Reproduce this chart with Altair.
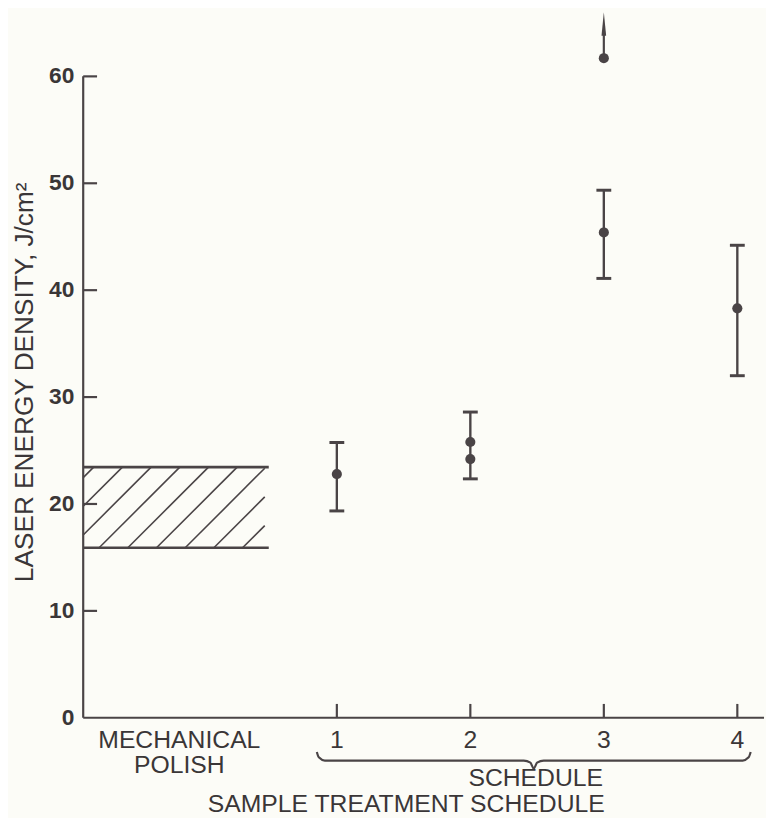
import altair as alt
import pandas as pd

# ---------------- data ----------------
schedule_x = [1, 2, 3, 4]
schedule_labels = ["1", "2", "3", "4"]
err_low = [19.35, 22.35, 41.1, 32.0]
err_high = [25.75, 28.6, 49.35, 44.2]

point_x = [1, 2, 2, 3, 3, 4]
point_y = [22.8, 25.8, 24.2, 45.4, 61.7, 38.3]

arrow_x = [3]
arrow_from = [61.7]
arrow_to = [64.2]
arrow_head = [64.9]

polish_low = 15.9
polish_high = 23.45
polish_x_start = -0.9
polish_x_end = 0.49

y_ticks = [0, 10, 20, 30, 40, 50, 60]
y_tick_labels = ["0", "10", "20", "30", "40", "50", "60"]

# ---------------- layout ----------------
X_DOM = [-0.9, 4.2]
Y_DOM = [0, 66]
W = 688
H = 713
INK = "#4a4446"
TXT = "#3a3637"
FONT = "Liberation Sans"

px_x = W / (X_DOM[1] - X_DOM[0])
px_y = H / (Y_DOM[1] - Y_DOM[0])

xs = alt.Scale(domain=X_DOM, nice=False, zero=False)
ys = alt.Scale(domain=Y_DOM, nice=False, zero=False)


def X(f):
    return alt.X(f, type="quantitative", scale=xs, axis=None)


def Y(f):
    return alt.Y(f, type="quantitative", scale=ys, axis=None)


# y-axis line (0..60) and inward ticks
yline_df = pd.DataFrame({"lo": [0], "hi": [60]})
yline = alt.Chart(yline_df).mark_rule(color=INK, strokeWidth=2.2).encode(
    x=alt.value(0), y=Y("lo"), y2="hi")
ytick_df = pd.DataFrame({"v": y_ticks[1:]})
yticks = alt.Chart(ytick_df).mark_rule(color=INK, strokeWidth=2.2).encode(
    x=alt.value(0), x2=alt.value(14), y=Y("v"))
ylab_df = pd.DataFrame({"v": y_ticks, "t": y_tick_labels})
ylabels = alt.Chart(ylab_df).mark_text(
    font=FONT, fontSize=23, fontWeight="bold", color=TXT, align="right", baseline="middle"
).encode(x=alt.value(-9), y=Y("v"), text="t:N")

# x-axis line and upward ticks
xline_df = pd.DataFrame({"z": [0]})
xline = alt.Chart(xline_df).mark_rule(color=INK, strokeWidth=2.2).encode(
    x=alt.value(0), x2=alt.value(W), y=Y("z"))
xt_df = pd.DataFrame({"s": schedule_x})
xticks = alt.Chart(xt_df).mark_rule(color=INK, strokeWidth=2.2).encode(
    x=X("s"), y=alt.value(H), y2=alt.value(H - 14))

# mechanical polish band outline
band_df = pd.DataFrame({"x0": [polish_x_start] * 2, "x1": [polish_x_end] * 2,
                        "y": [polish_low, polish_high]})
band = alt.Chart(band_df).mark_rule(color=INK, strokeWidth=2.6).encode(
    x=X("x0"), x2="x1", y=Y("y"))

# hatch lines (45 deg in pixels) clipped to the band
Hx = (polish_high - polish_low) * px_y / px_x
step = 29 / px_x
phase = -0.781
hxr = polish_x_end - 0.03
segs = []
k = -6
while True:
    c = phase + k * step
    k += 1
    if c > hxr:
        break
    if c + Hx <= polish_x_start:
        continue
    xa = max(c, polish_x_start)
    xb = min(c + Hx, hxr)
    ya = polish_low + (xa - c) / Hx * (polish_high - polish_low)
    yb = polish_low + (xb - c) / Hx * (polish_high - polish_low)
    segs.append({"xa": xa, "xb": xb, "ya": ya, "yb": yb})
hatch_df = pd.DataFrame(segs)
hatch = alt.Chart(hatch_df).mark_rule(color=INK, strokeWidth=1.6).encode(
    x=X("xa"), x2="xb", y=Y("ya"), y2="yb")

# error bars
err_df = pd.DataFrame({"s": schedule_x, "lo": err_low, "hi": err_high})
ebars = alt.Chart(err_df).mark_rule(color=INK, strokeWidth=2.4).encode(
    x=X("s"), y=Y("lo"), y2="hi")
cap_df = pd.DataFrame({"s": schedule_x * 2, "v": err_low + err_high})
caps = alt.Chart(cap_df).mark_tick(color=INK, orient="horizontal", size=15,
                                   thickness=3, opacity=1).encode(
    x=X("s"), y=Y("v"))

# points
pt_df = pd.DataFrame({"s": point_x, "v": point_y})
pts = alt.Chart(pt_df).mark_circle(color=INK, size=105, opacity=1).encode(
    x=X("s"), y=Y("v"))

# arrow
arr_df = pd.DataFrame({"s": arrow_x, "a": arrow_from, "b": arrow_to, "h": arrow_head})
stem = alt.Chart(arr_df).mark_rule(color=INK, strokeWidth=2.2).encode(
    x=X("s"), y=Y("a"), y2="b")
head = alt.Chart(arr_df).mark_point(
    shape="M0,-1L0.2,1L-0.2,1Z", filled=True, color=INK, size=560, opacity=1
).encode(x=X("s"), y=Y("h"))

# curly brace under schedules
brace_x = [0.85, 0.865, 0.91, 2.40, 2.45, 2.475, 2.50, 2.55, 4.04, 4.085, 4.1]
brace_y = [-3.2, -3.7, -4.0, -4.0, -4.2, -4.75, -4.2, -4.0, -4.0, -3.7, -3.2]
brace_df = pd.DataFrame({"x": brace_x, "y": brace_y, "o": list(range(len(brace_x)))})
brace = alt.Chart(brace_df).mark_line(color=INK, strokeWidth=2.2,
                                      interpolate="monotone").encode(
    x=X("x"), y=Y("y"), order="o:Q")


# text
def txt(df, y_px, size=25, **kw):
    return alt.Chart(df).mark_text(font=FONT, fontSize=size, color=TXT,
                                   baseline="middle", align="center", **kw).encode(
        x=X("x"), y=alt.value(y_px), text="t:N")


num_txt = txt(pd.DataFrame({"x": schedule_x, "t": schedule_labels}), 736)
mech_txt = txt(pd.DataFrame({"x": [-0.18], "t": ["MECHANICAL"]}), 736)
pol_txt = txt(pd.DataFrame({"x": [-0.18], "t": ["POLISH"]}), 761)
sch_txt = txt(pd.DataFrame({"x": [2.49], "t": ["SCHEDULE"]}), 774)
title_txt = txt(pd.DataFrame({"x": [1.52], "t": ["SAMPLE TREATMENT SCHEDULE"]}), 800)

ytitle = alt.Chart(pd.DataFrame({"t": ["LASER ENERGY DENSITY,  J/cm²"]})).mark_text(
    font=FONT, fontSize=26.5, color=TXT, angle=270, baseline="middle", align="center"
).encode(x=alt.value(-59), y=alt.value(374), text="t:N")

chart = alt.layer(
    yline, yticks, ylabels, xline, xticks, band, hatch, ebars, caps, pts, stem, head,
    brace, num_txt, mech_txt, pol_txt, sch_txt, title_txt, ytitle
).properties(
    width=W, height=H,
    autosize=alt.AutoSizeParams(type="none"),
    padding={"left": 76, "top": 0, "right": 2, "bottom": 97},
    background="#fcfcf7",
).configure_view(stroke=None)

chart.save("out.html", embed_options={"renderer": "svg", "actions": False})
